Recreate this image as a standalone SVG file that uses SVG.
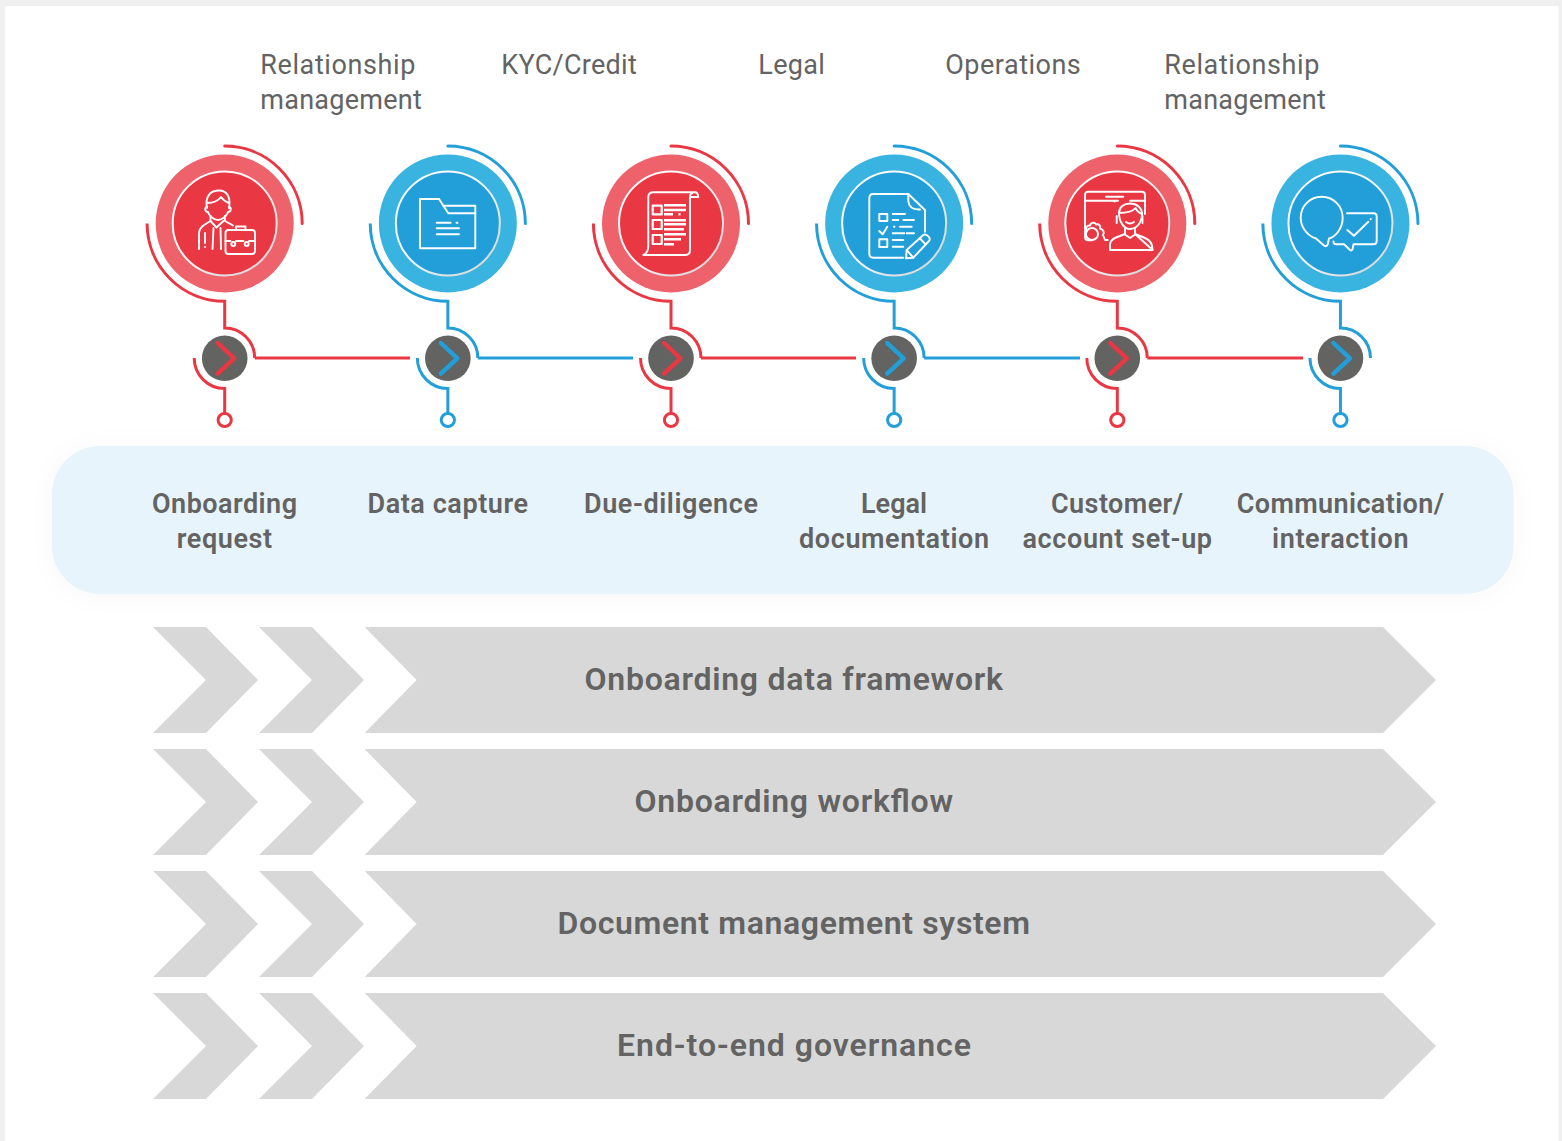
<svg xmlns="http://www.w3.org/2000/svg" xmlns:xlink="http://www.w3.org/1999/xlink" width="1562" height="1141" viewBox="0 0 1562 1141">
<style>
text{font-family:"Roboto","Liberation Sans",sans-serif;fill:#636363}
.role{font-size:27px;font-weight:400}
.step{font-size:27px;font-weight:600}
.bar{font-size:32px;font-weight:600}
.r{stroke:#e93743}.b{stroke:#229fd9}
.line{fill:none;stroke-width:3}
.chev{fill:none;stroke-width:4.4;stroke-linecap:round;stroke-linejoin:round}
.arc{fill:none;stroke-width:3;stroke-linecap:round}
.ic{fill:none;stroke:#fff;stroke-width:1.9;stroke-linecap:round;stroke-linejoin:round}
.th{stroke-width:2.6;stroke-linecap:butt}
.gray{fill:#d8d8d8}
</style>
<defs>
<linearGradient id="ringg" x1="0" y1="0" x2="1" y2="1"><stop offset="0" stop-color="#ffffff"/><stop offset="0.5" stop-color="#f4f4f4"/><stop offset="1" stop-color="#cfcfcf"/></linearGradient>
<filter id="soft" x="-5%" y="-20%" width="110%" height="140%"><feDropShadow dx="0" dy="2" stdDeviation="12" flood-color="#000" flood-opacity="0.03"/></filter>
<g id="rarc"><path class="arc" d="M0 146A77.5 77.5 0 0 1 77.5 223.5"/></g>
<g id="stem"><path class="line" d="M-77.6 223.5A77.6 77.6 0 0 0 0 301.2V328A30 30 0 0 1 30 358"/><path class="line" d="M-30.5 358A30.5 30.5 0 0 0 0 388.500V413.500"/><circle class="line" cx="0" cy="420" r="6.6"/></g>
<g id="nub"><circle cx="0" cy="358.3" r="22.8" fill="#636362" stroke="none"/><path class="chev" d="M-7 343L9.5 358.3L-7 373.6"/></g>
<g id="chv"><path class="gray" d="M0 0H53L105 53L53 106H0L53 53Z"/><path class="gray" d="M106 0H159L211 53L159 106H106L159 53Z"/><path class="gray" d="M211.600 0H1230L1283 53L1230 106H211.600L263.600 53Z"/></g>
</defs>
<rect width="1562" height="1141" fill="#f0f0f0"/>
<rect x="5" y="6" width="1553.5" height="1135" fill="#fff"/>

<g id="connectors">
<use href="#stem" transform="translate(224.7 0)" class="r"/>
<use href="#stem" transform="translate(447.85 0)" class="b"/>
<use href="#stem" transform="translate(671 0)" class="r"/>
<use href="#stem" transform="translate(894.15 0)" class="b"/>
<use href="#stem" transform="translate(1117.3 0)" class="r"/>
<use href="#stem" transform="translate(1340.45 0)" class="b"/>
<path class="line r" d="M254.7 358H410"/>
<path class="line b" d="M477.85 358H633"/>
<path class="line r" d="M701 358H856"/>
<path class="line b" d="M924.15 358H1080"/>
<path class="line r" d="M1147.3 358H1303"/>
</g>

<g id="panel"><rect x="52" y="446" width="1461.5" height="148" rx="48" fill="#e8f4fb" filter="url(#soft)"/></g>

<g id="node-onboarding-request">
<use href="#rarc" transform="translate(224.7 0)" class="r"/>
<circle cx="224.7" cy="223.4" r="69" fill="#ee626c"/>
<circle cx="224.7" cy="223.4" r="52" fill="#e93743" stroke="url(#ringg)" stroke-width="2"/>
<g class="ic">
<path d="M207 208C205 198 209 191 218 190.500C227 190 231 197 229 208"/>
<path d="M207 203C213 203 218 201 221 197C223 200 226 202 229 203"/>
<path d="M207 207C204 207 205 212 208 212C209 216 214 220 218 220C222 220 227 216 228 212C231 212 232 207 229 207"/>
<path d="M199 249V234C199 229 201 227 204 225L210.500 221V216M225 216V221L233 225.500"/>
<path d="M210.500 221L216.500 227.500L223.500 221M205 233V243M213.500 228L212.500 249M220.500 228L221 249"/>
<path d="M205 246.700V247"/>
<rect x="225.500" y="230" width="29.500" height="24" rx="3"/>
<path d="M236 230V226.500H245.500V230M225.500 241H230.500M236 241H243.500M249 241H255"/>
<circle cx="233.300" cy="244" r="2"/><circle cx="246.700" cy="244" r="2"/>
</g>
</g>

<g id="node-data-capture">
<use href="#rarc" transform="translate(447.85 0)" class="b"/>
<circle cx="447.85" cy="223.4" r="69" fill="#39b3e0"/>
<circle cx="447.85" cy="223.4" r="52" fill="#229fd9" stroke="url(#ringg)" stroke-width="2"/>
<g class="ic">
<path d="M439 199H420V248.300H475.300V205.700H443.300"/>
<path d="M439 199L448.300 213.300H475.300"/>
<path d="M436.700 222.700H450.700M456.500 222.700H457.500M436.700 228.300H459M436.700 234.300H459"/>
</g>
</g>

<g id="node-due-diligence">
<use href="#rarc" transform="translate(671 0)" class="r"/>
<circle cx="671" cy="223.4" r="69" fill="#ee626c"/>
<circle cx="671" cy="223.4" r="52" fill="#e93743" stroke="url(#ringg)" stroke-width="2"/>
<g class="ic">
<path d="M695 192.300H653.500Q648.300 192.300 648.300 197V246Q648.300 253 643.300 255H685Q690 255 690 250V197H698.300Q698 192.300 695 192.300Q690 192.300 690 197"/>
<rect x="652.700" y="205.700" width="9" height="8.700" stroke-width="2.200"/>
<rect x="652.700" y="220" width="9" height="9" stroke-width="2.200"/>
<rect x="652.700" y="235" width="9" height="9" stroke-width="2.200"/>
<path class="ic th" d="M664 205.300H686M664 210H686M664 214.300H673M678.500 214.300H680.500M664 220.300H686M664 224.300H686M664 229.300H684M664 234.300H686M664 239.300H681M664 244.300H674"/>
</g>
</g>

<g id="node-legal-documentation">
<use href="#rarc" transform="translate(894.15 0)" class="b"/>
<circle cx="894.15" cy="223.4" r="69" fill="#39b3e0"/>
<circle cx="894.15" cy="223.4" r="52" fill="#229fd9" stroke="url(#ringg)" stroke-width="2"/>
<g class="ic">
<path d="M903.300 257.700H873.300Q869.300 257.700 869.300 253.500V198.300Q869.300 194 873.300 194H908.300L925 210V231.700"/>
<path d="M908.300 194V201Q909 210 920 209.500"/>
<rect x="879.300" y="214" width="8" height="7"/><rect x="879.300" y="239.300" width="8" height="7.700"/>
<path d="M879.300 231L882.700 234.300L887.300 226.700"/>
<path d="M892.700 214H905M892.700 220H898.300M903.300 220H914M894 226.700H894.500M900 226.700H911.700M892.700 233.300H904.300M906.700 233.300H914M892.700 240H903.300M892.700 246.700H903.300"/>
<path d="M906 258.300L906.700 250L923.300 235Q926 233.500 929 237Q930.500 239.500 929 241L913.300 257.700Z"/>
<path d="M920 238.500L925.700 244.300M906.700 250L913.300 257.700"/>
</g>
</g>

<g id="node-customer-account-set-up">
<use href="#rarc" transform="translate(1117.3 0)" class="r"/>
<circle cx="1117.3" cy="223.4" r="69" fill="#ee626c"/>
<circle cx="1117.3" cy="223.4" r="52" fill="#e93743" stroke="url(#ringg)" stroke-width="2"/>
<g class="ic">
<path d="M1145 214V195Q1145 191.700 1141.700 191.700H1088.300Q1085 191.700 1085 195V237Q1085 240.300 1088.300 240.300H1092"/>
<path d="M1085 200.700H1118M1130 200.700H1145M1106 196.700H1123.300M1114.500 201V201.500"/>
<path d="M1119 213C1119 207 1124 203.500 1130 203.500C1137 203.500 1142 208 1142 214C1142 222 1137 229 1130 229C1124 229 1119 222 1119 213Z"/>
<path d="M1119 213C1126 213 1133 211 1135.500 208C1137 211 1139 213 1142 214"/>
<path d="M1116.700 216V223M1142.500 216V223M1126 222Q1130 225 1134 222"/>
<path d="M1125 228V234.500L1130 238L1135 234.500V228"/>
<path d="M1110 250V245Q1110 240 1116 237.500L1125 234M1135 234L1144 237.500Q1152.700 241 1152.700 250ZM1110 250H1152.700"/>
<path d="M1087 231C1085 228 1087 225 1090 225.500C1091 222 1095 222 1096 224.500C1099 223.500 1101 226 1100 228.500C1103 229.500 1105 232 1103 235L1105 240H1107.700"/>
<circle cx="1092" cy="234" r="6"/>
</g>
</g>

<g id="node-communication-interaction">
<use href="#rarc" transform="translate(1340.45 0)" class="b"/>
<circle cx="1340.45" cy="223.4" r="69" fill="#39b3e0"/>
<circle cx="1340.45" cy="223.4" r="52" fill="#229fd9" stroke="url(#ringg)" stroke-width="2"/>
<g class="ic">
<path d="M1316 238.500C1307 235.500 1300.700 227 1300.700 217.700C1300.700 206 1310 196.700 1321.700 196.700C1333.300 196.700 1342.700 206 1342.700 217.700C1342.700 229 1335 237 1329 238.500L1327.500 245Q1326 247 1324 245.500Z"/>
<path d="M1347 213.300H1373.500Q1376.700 213.300 1376.700 216.500V241Q1376.700 244.300 1373.500 244.300H1353.500L1352.500 249.500Q1351.500 251 1350 250L1344 244.300H1336.500Q1333.500 244.300 1333.500 241.500"/>
<path d="M1347.300 230L1354 235.700L1368.300 221.700M1370.700 219V219.300"/>
</g>
</g>

<g id="nubs">
<use href="#nub" transform="translate(224.7 0)" class="r"/>
<use href="#nub" transform="translate(447.85 0)" class="b"/>
<use href="#nub" transform="translate(671 0)" class="r"/>
<use href="#nub" transform="translate(894.15 0)" class="b"/>
<use href="#nub" transform="translate(1117.3 0)" class="r"/>
<use href="#nub" transform="translate(1340.45 0)" class="b"/>
</g>

<g id="roles">
<text class="role" x="260.300" y="74" textLength="155">Relationship</text>
<text class="role" x="260.300" y="109" textLength="161.500">management</text>
<text class="role" x="501.300" y="74" textLength="135.500">KYC/Credit</text>
<text class="role" x="758.300" y="74" textLength="66.500">Legal</text>
<text class="role" x="945.300" y="74" textLength="135.500">Operations</text>
<text class="role" x="1164.300" y="74" textLength="155">Relationship</text>
<text class="role" x="1164.300" y="109" textLength="161.500">management</text>
</g>

<g id="steps">
<text class="step" x="152" y="513" textLength="145">Onboarding</text>
<text class="step" x="176.700" y="548" textLength="95.500">request</text>
<text class="step" x="367.500" y="513" textLength="160.500">Data capture</text>
<text class="step" x="584" y="513" textLength="174">Due-diligence</text>
<text class="step" x="861" y="513" textLength="66">Legal</text>
<text class="step" x="799" y="548" textLength="190">documentation</text>
<text class="step" x="1051" y="513" textLength="132">Customer/</text>
<text class="step" x="1022.500" y="548" textLength="189.500">account set-up</text>
<text class="step" x="1236.700" y="513" textLength="207.300">Communication/</text>
<text class="step" x="1272" y="548" textLength="136.500">interaction</text>
</g>

<g id="bar-onboarding-data-framework"><use href="#chv" transform="translate(153 627)"/><text class="bar" x="584.500" y="690" textLength="418.500">Onboarding data framework</text></g>
<g id="bar-onboarding-workflow"><use href="#chv" transform="translate(153 749)"/><text class="bar" x="634.500" y="812" textLength="318.500">Onboarding workflow</text></g>
<g id="bar-document-management-system"><use href="#chv" transform="translate(153 871)"/><text class="bar" x="557.500" y="934" textLength="472.500">Document management system</text></g>
<g id="bar-end-to-end-governance"><use href="#chv" transform="translate(153 993)"/><text class="bar" x="617" y="1056" textLength="354">End-to-end governance</text></g>
</svg>
